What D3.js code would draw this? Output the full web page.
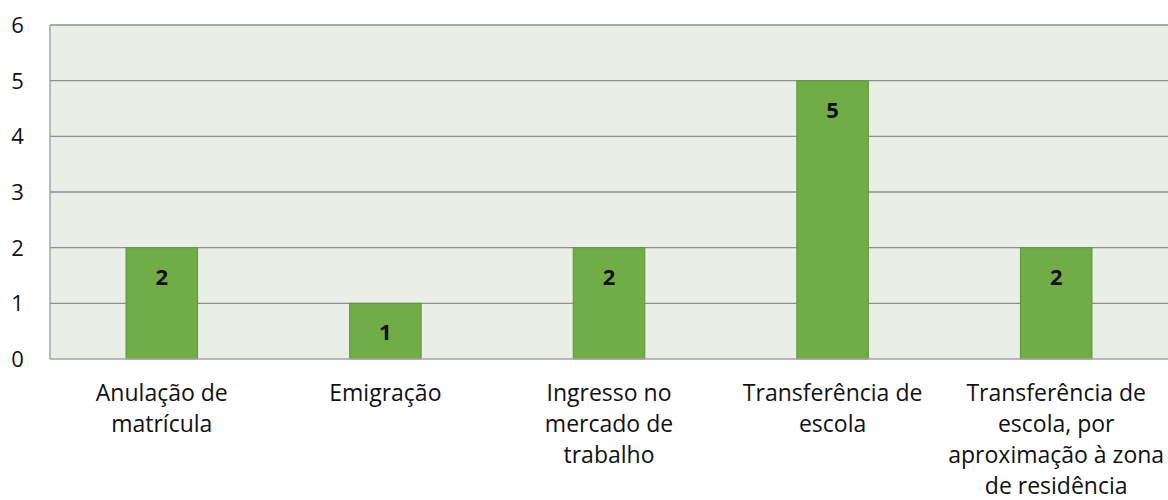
<!DOCTYPE html>
<html lang="pt">
<head>
    <meta charset="UTF-8">
    <title>Motivos</title>
    <script src="https://d3js.org/d3.v7.min.js"></script>
    <style>
        body { margin: 0; background: white; }
        text { font-family: "Open Sans", "Liberation Sans", sans-serif; fill: #111; }
    </style>
</head>
<body>
<svg width="1168" height="500"></svg>

<script>
    const categories = [
        ["Anulação de", "matrícula"],
        ["Emigração"],
        ["Ingresso no", "mercado de", "trabalho"],
        ["Transferência de", "escola"],
        ["Transferência de", "escola, por", "aproximação à zona", "de residência"]
    ];
    const values = [2, 1, 2, 5, 2];
    const yTicks = [0, 1, 2, 3, 4, 5, 6];

    const svg = d3.select("svg");
    const plotLeft = 50, plotRight = 1168, plotTop = 25, plotBottom = 359;

    const x = d3.scaleBand().domain(d3.range(categories.length)).range([plotLeft, plotRight]).padding(0);
    const y = d3.scaleLinear().domain([0, 6]).range([plotBottom, plotTop]);
    const barW = x.bandwidth() * 0.32;

    svg.append("rect")
        .attr("x", plotLeft).attr("y", plotTop)
        .attr("width", plotRight - plotLeft).attr("height", plotBottom - plotTop)
        .style("fill", "#e9eee6");

    svg.selectAll(".grid")
        .data(yTicks.slice(1))
        .enter().append("line")
        .attr("x1", plotLeft).attr("x2", plotRight)
        .attr("y1", d => y(d)).attr("y2", d => y(d))
        .style("stroke", "#8f8f8f").style("stroke-width", 1.3);

    svg.selectAll(".ytick")
        .data(yTicks)
        .enter().append("text")
        .attr("x", 17.5).attr("y", d => y(d))
        .attr("dy", "0.36em")
        .attr("text-anchor", "middle")
        .style("font-size", "22px")
        .text(d => d);

    svg.selectAll(".bar")
        .data(values)
        .enter().append("rect")
        .attr("x", (d, i) => x(i) + x.bandwidth() / 2 - barW / 2)
        .attr("y", d => y(d))
        .attr("width", barW)
        .attr("height", d => y(0) - y(d))
        .style("fill", "#70ad47")
        .style("stroke", "#5b9a38").style("stroke-width", 1);

    svg.selectAll(".val")
        .data(values)
        .enter().append("text")
        .attr("x", (d, i) => x(i) + x.bandwidth() / 2)
        .attr("y", d => y(d) + 37)
        .attr("text-anchor", "middle")
        .style("font-size", "22px").style("font-weight", "bold")
        .text(d => d);

    // axis lines
    svg.append("line")
        .attr("x1", plotLeft).attr("x2", plotLeft).attr("y1", plotTop).attr("y2", plotBottom)
        .style("stroke", "#a6a6a6").style("stroke-width", 1.5);
    svg.append("line")
        .attr("x1", plotLeft).attr("x2", plotRight).attr("y1", plotBottom).attr("y2", plotBottom)
        .style("stroke", "#a6a6a6").style("stroke-width", 1.5);

    const lab = svg.selectAll(".cat")
        .data(categories)
        .enter().append("text")
        .attr("text-anchor", "middle")
        .style("font-size", "23px");
    lab.selectAll("tspan")
        .data((d, i) => d.map(s => ({s, i})))
        .enter().append("tspan")
        .attr("x", d => x(d.i) + x.bandwidth() / 2)
        .attr("y", (d, j) => 401 + j * 31)
        .text(d => d.s);
</script>
</body>
</html>
